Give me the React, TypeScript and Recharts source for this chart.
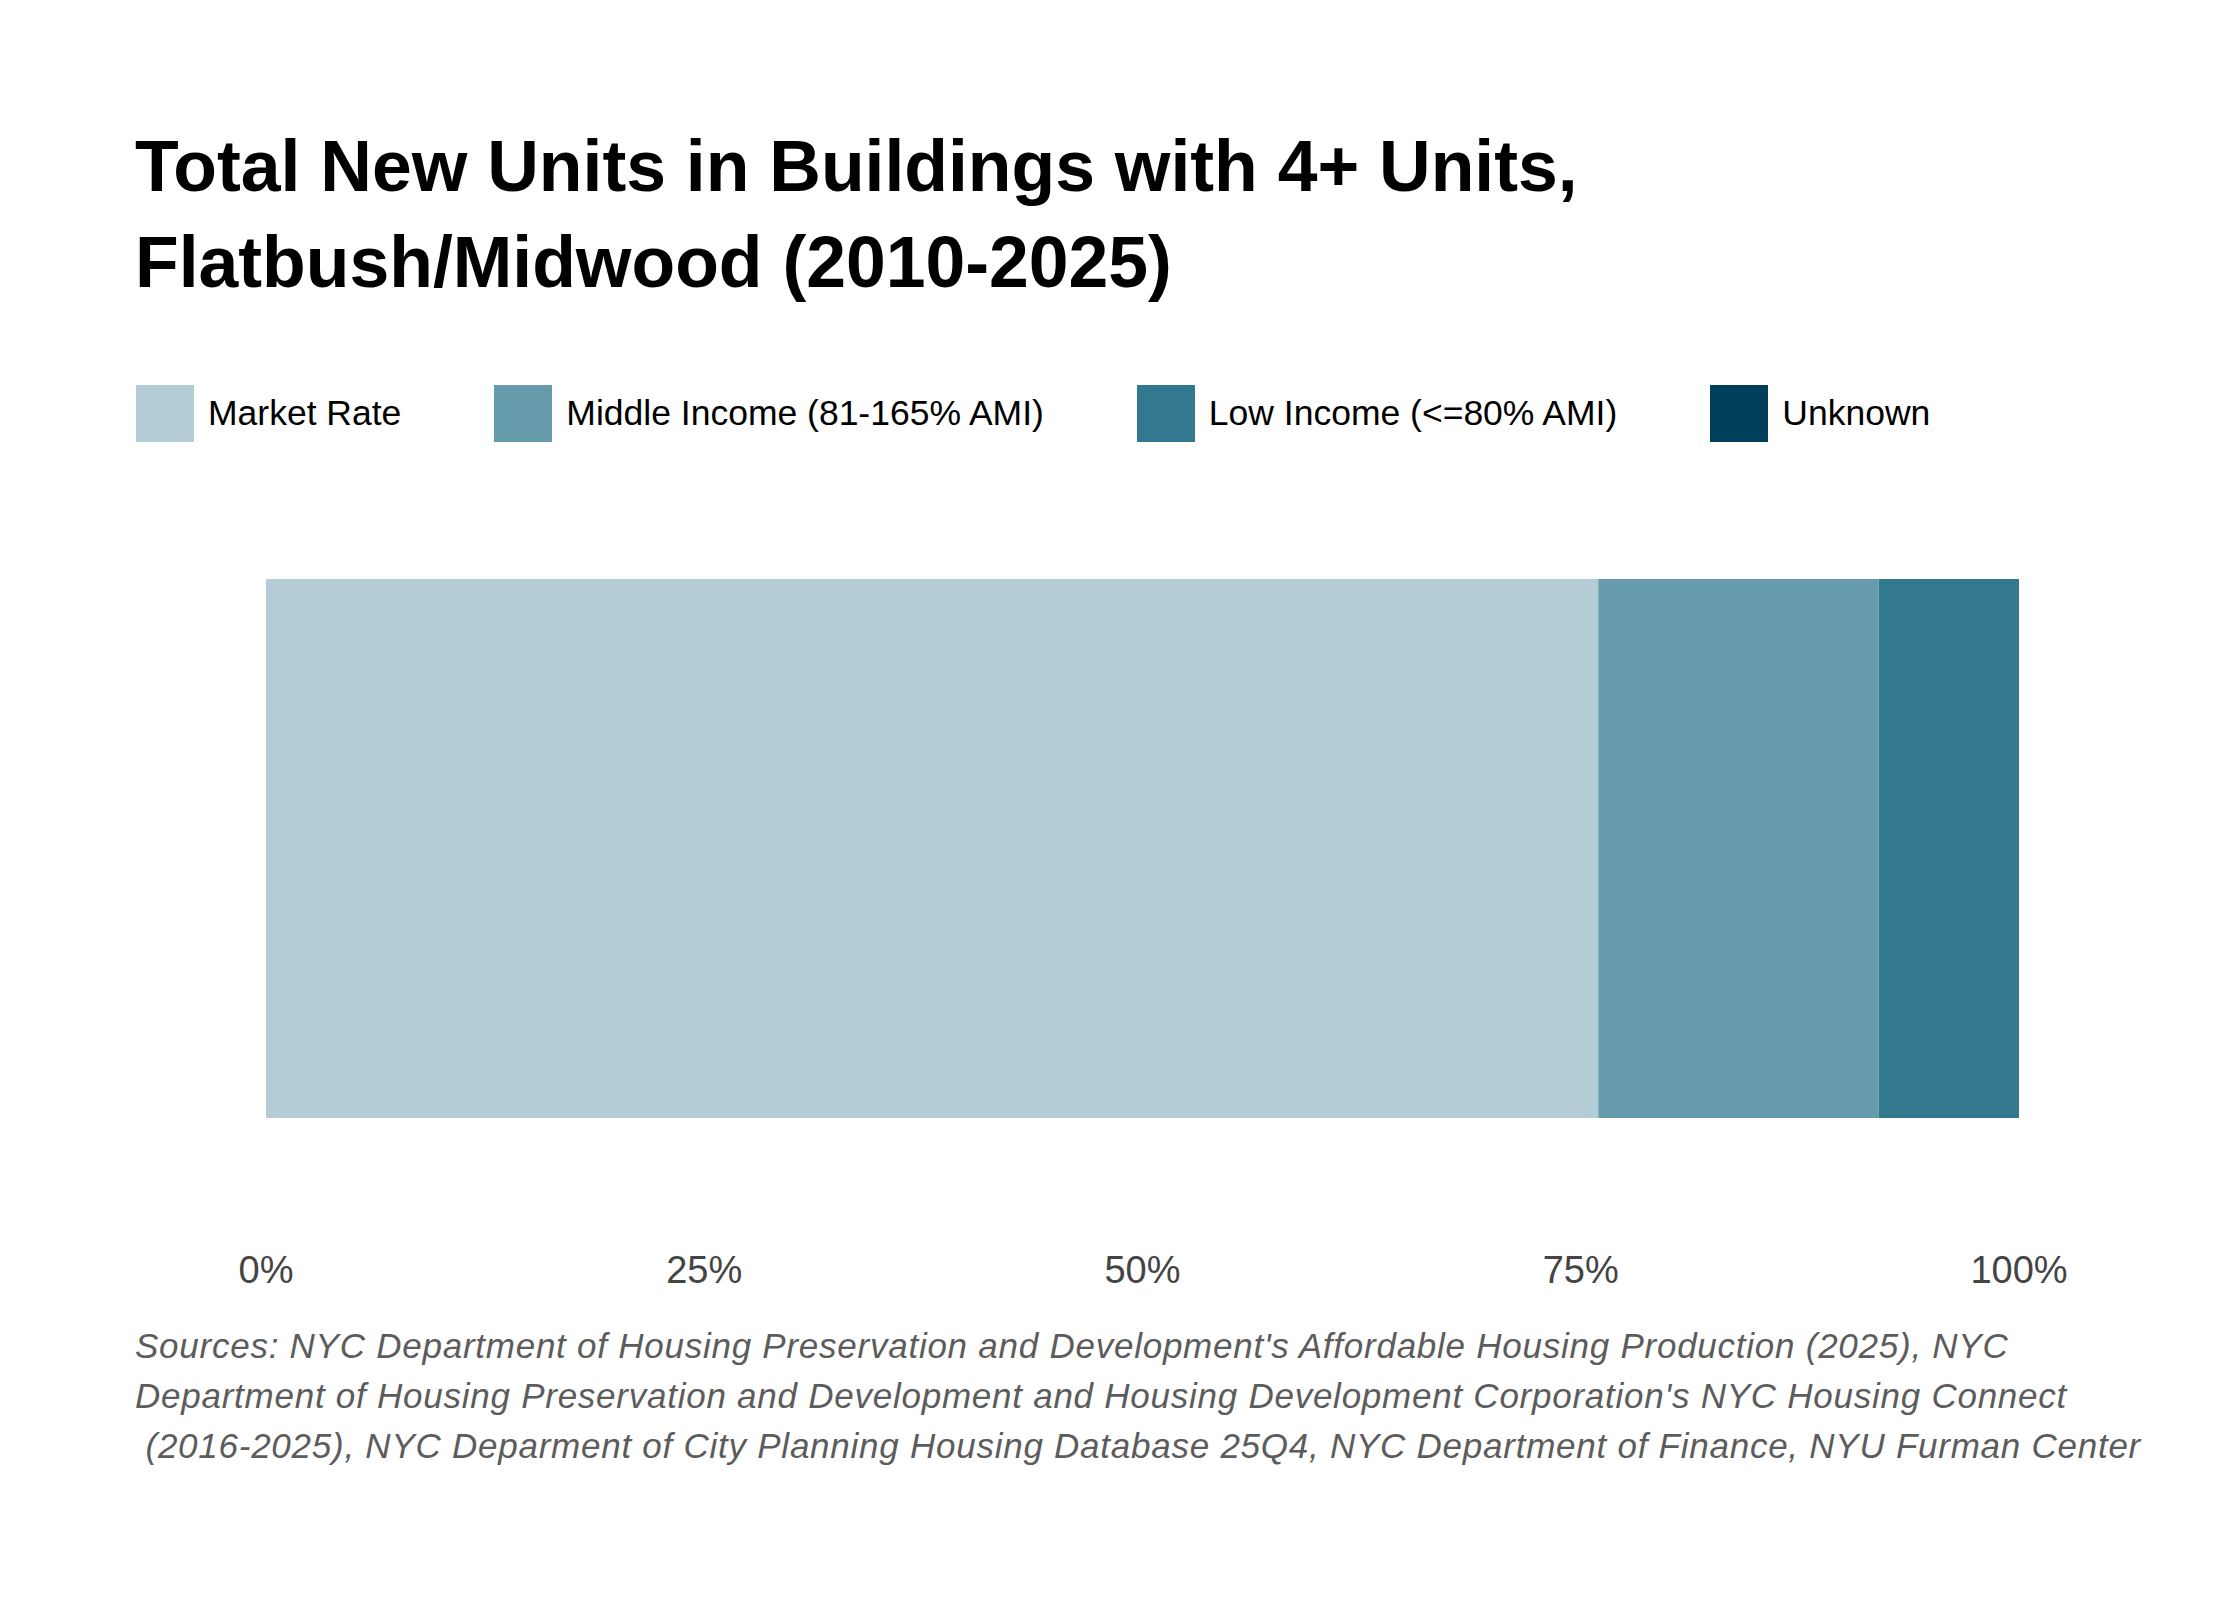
import { Bar, BarChart, XAxis, YAxis } from 'recharts'

// share of new units by affordability tier, single neighbourhood row
const categories = ['Flatbush/Midwood']
const seriesNames = ['Market Rate', 'Middle Income (81-165% AMI)', 'Low Income (<=80% AMI)', 'Unknown']
const seriesKeys = ['market', 'middle', 'low', 'unknown']
const seriesColors = ['#b4ccd6', '#669bac', '#32798f', '#00405a']
const marketValues = [76]
const middleValues = [16]
const lowValues = [8]
const unknownValues = [0]
const xTicks = [0, 25, 50, 75, 100]

const sourceLines = [
  "Sources: NYC Department of Housing Preservation and Development's Affordable Housing Production (2025), NYC",
  "Department of Housing Preservation and Development and Housing Development Corporation's NYC Housing Connect",
  ' (2016-2025), NYC Deparment of City Planning Housing Database 25Q4, NYC Department of Finance, NYU Furman Center',
]

const rows = categories.map((name, i) => ({
  name,
  market: marketValues[i],
  middle: middleValues[i],
  low: lowValues[i],
  unknown: unknownValues[i],
}))

const SANS = '"Liberation Sans", Arial, sans-serif'

export default function App() {
  return (
    <div
      style={{
        position: 'absolute',
        left: 0,
        top: 0,
        width: 2240,
        height: 1600,
        background: '#fff',
        fontFamily: SANS,
        overflow: 'hidden',
      }}
    >
      <div
        style={{
          position: 'absolute',
          left: 135,
          top: 118,
          fontSize: 71.5,
          lineHeight: '96px',
          fontWeight: 700,
          color: '#000',
        }}
      >
        <div>Total New Units in Buildings with 4+ Units,</div>
        <div>Flatbush/Midwood (2010-2025)</div>
      </div>

      <div style={{ position: 'absolute', left: 136, top: 385, display: 'flex', gap: 93 }}>
        {seriesNames.map((label, i) => (
          <div key={label} style={{ display: 'flex', alignItems: 'center', gap: 14 }}>
            <span style={{ width: 58, height: 57, background: seriesColors[i], display: 'block' }} />
            <span style={{ fontSize: 35.5, color: '#000' }}>{label}</span>
          </div>
        ))}
      </div>

      <div style={{ position: 'absolute', left: 0, top: 540 }}>
        <BarChart
          width={2240}
          height={800}
          data={rows}
          layout="vertical"
          barCategoryGap={0}
          margin={{ top: 39, right: 221, bottom: 22, left: 266 }}
        >
          <XAxis
            type="number"
            domain={[0, 100]}
            ticks={xTicks}
            tickFormatter={(v) => `${v}%`}
            axisLine={false}
            tickLine={false}
            tickSize={0}
            tickMargin={138}
            height={200}
            interval={0}
            tick={{ fill: '#444', fontSize: 38, fontFamily: SANS }}
          />
          <YAxis type="category" dataKey="name" hide />
          {seriesKeys.map((key, i) => (
            <Bar key={key} dataKey={key} stackId="units" fill={seriesColors[i]} isAnimationActive={false} />
          ))}
        </BarChart>
      </div>

      <div
        style={{
          position: 'absolute',
          left: 135,
          top: 1321,
          fontSize: 35,
          letterSpacing: 0.75,
          lineHeight: '50px',
          fontStyle: 'italic',
          color: '#5c5c5c',
          whiteSpace: 'pre',
        }}
      >
        {sourceLines.map((line) => (
          <div key={line}>{line}</div>
        ))}
      </div>
    </div>
  )
}
